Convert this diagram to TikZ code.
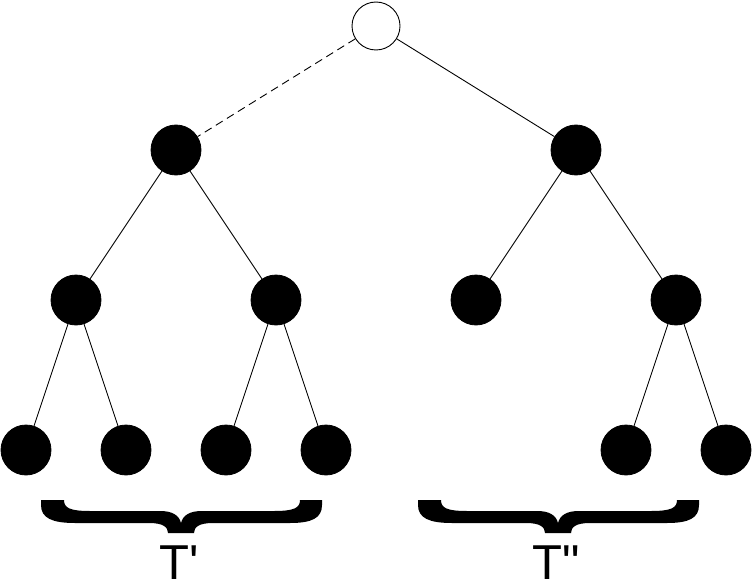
\documentclass[tikz,border=0pt]{standalone}
\usepackage{fontspec}
\setmainfont{Liberation Sans}[Ligatures=TeXOff]
\tikzset{
  leaf/.style={circle,fill=black,draw=black,line width=0.8pt,minimum size=50pt,inner sep=0pt},
  rootnode/.style={circle,fill=white,draw=black,line width=0.9pt,minimum size=48pt,inner sep=0pt},
  edge/.style={draw=black,line width=0.9pt},
  dashededge/.style={edge,dash pattern=on 8pt off 5pt},
  lbl/.style={font=\fontsize{49}{49}\selectfont,inner sep=0pt,anchor=base},
  bigbrace/.pic={
    \fill[black] (41,500) -- (64,500) .. controls (64,508) and (70,511) .. (90,511)
      -- (160,511) .. controls (172,511) and (179,515) .. (181,523)
      .. controls (183,515) and (190,511) .. (202,511) -- (274,511)
      .. controls (294,511) and (300,508) .. (300,500) -- (322,500) -- (322,505)
      .. controls (322,518) and (312,523) .. (290,523) -- (213,523)
      .. controls (199,523) and (194,527) .. (194,533) -- (168,533)
      .. controls (168,527) and (163,523) .. (149,523) -- (75,523)
      .. controls (52,523) and (41,518) .. (41,505) -- cycle;
  }
}
\begin{document}
\begin{tikzpicture}[x=1pt,y=-1pt]
\useasboundingbox (0,0) rectangle (752,583);
\node[rootnode] (r) at (376,26) {};
\node[leaf] (a) at (176,150) {};
\node[leaf] (b) at (576,150) {};
\node[leaf] (aa) at (76,300) {};
\node[leaf] (ab) at (276,300) {};
\node[leaf] (ba) at (476,300) {};
\node[leaf] (bb) at (676,300) {};
\node[leaf] (aaa) at (26,450) {};
\node[leaf] (aab) at (126,450) {};
\node[leaf] (aba) at (226,450) {};
\node[leaf] (abb) at (326,450) {};
\node[leaf] (bba) at (626,450) {};
\node[leaf] (bbb) at (726,450) {};
\draw[dashededge] (r) -- (a);
\draw[edge] (r) -- (b);
\draw[edge] (a) -- (aa);
\draw[edge] (a) -- (ab);
\draw[edge] (b) -- (ba);
\draw[edge] (b) -- (bb);
\draw[edge] (aa) -- (aaa);
\draw[edge] (aa) -- (aab);
\draw[edge] (ab) -- (aba);
\draw[edge] (ab) -- (abb);
\draw[edge] (bb) -- (bba);
\draw[edge] (bb) -- (bbb);
\pic at (0,0) {bigbrace};
\pic at (377,0) {bigbrace};
\node[lbl] (t1) at (179,579) {T'};
\node[lbl] (t2) at (556,579) {T"};
\end{tikzpicture}
\end{document}
